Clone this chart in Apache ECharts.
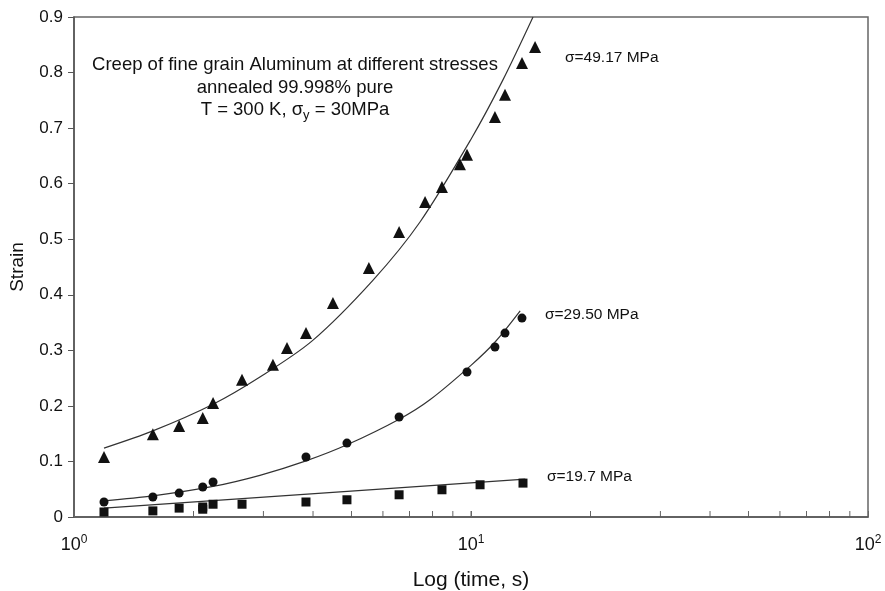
<!DOCTYPE html>
<html>
<head>
<meta charset="utf-8">
<script src="https://cdn.jsdelivr.net/npm/echarts@6/dist/echarts.min.js"></script>
<style>
  html, body { margin: 0; padding: 0; background: #fff; }
  #chart { width: 885px; height: 591px; }
</style>
</head>
<body>
<div id="chart"></div>
<script>
// measured points, [time (s), strain]
const high = [
  [1.19, 0.108], [1.58, 0.149], [1.84, 0.164], [2.11, 0.178], [2.24, 0.205],
  [2.65, 0.247], [3.17, 0.274], [3.44, 0.304], [3.84, 0.331], [4.49, 0.385],
  [5.53, 0.448], [6.59, 0.513], [7.66, 0.567], [8.45, 0.594], [9.38, 0.635],
  [9.77, 0.652], [11.49, 0.720], [12.18, 0.760], [13.44, 0.817], [14.50, 0.846]
];
const mid = [
  [1.19, 0.027], [1.58, 0.036], [1.84, 0.043], [2.11, 0.054], [2.24, 0.063],
  [3.84, 0.108], [4.87, 0.133], [6.59, 0.180], [9.77, 0.261], [11.49, 0.306],
  [12.18, 0.331], [13.44, 0.358]
];
const low = [
  [1.19, 0.009], [1.58, 0.011], [1.84, 0.016], [2.11, 0.018], [2.11, 0.014],
  [2.24, 0.023], [2.65, 0.023], [3.84, 0.027], [4.87, 0.031], [6.59, 0.040],
  [8.45, 0.049], [10.54, 0.058], [13.52, 0.061]
];

// fitted curves
const highFit = [
  [1.19, 0.124], [1.58, 0.155], [2.24, 0.203], [2.94, 0.252], [3.98, 0.317],
  [5.66, 0.426], [7.44, 0.531], [10, 0.68], [12.0, 0.785], [14.33, 0.9]
];
const midFit = [
  [1.19, 0.029], [1.58, 0.038], [2.24, 0.055], [2.94, 0.075], [3.84, 0.101],
  [4.87, 0.130], [6.63, 0.177], [7.88, 0.211], [10, 0.273], [11.5, 0.315], [13.3, 0.371]
];
const lowFit = [[1.19, 0.016], [13.7, 0.068]];

const minorTicks = [2, 3, 4, 5, 6, 7, 8, 9, 10, 20, 30, 40, 50, 60, 70, 80, 90];
const yTicks = [0, 0.1, 0.2, 0.3, 0.4, 0.5, 0.6, 0.7, 0.8, 0.9];
const stressLabels = ['σ=49.17 MPa', 'σ=29.50 MPa', 'σ=19.7 MPa'];

const chart = echarts.init(document.getElementById('chart'));
const ink = '#111';
const font = 'Liberation Sans, Arial, sans-serif';

const fitLine = (data) => ({
  type: 'line',
  data: data,
  smooth: 0.3,
  showSymbol: false,
  lineStyle: { color: '#333', width: 1.2 },
  silent: true,
  z: 1
});

const points = (data, symbol, size) => ({
  type: 'scatter',
  data: data,
  symbol: symbol,
  symbolSize: size,
  itemStyle: { color: ink, opacity: 1 },
  z: 3
});

chart.setOption({
  animation: false,
  grid: {
    left: 74, right: 17, top: 17, bottom: 74,
    outerBoundsMode: 'none',
    show: true, borderColor: '#666', borderWidth: 1.5, backgroundColor: 'transparent'
  },
  title: {
    text: 'Creep of fine grain Aluminum at different stresses\nannealed 99.998% pure\nT = 300 K, σ{sub|y} = 30MPa',
    left: 290,
    top: 49,
    textAlign: 'center',
    textStyle: {
      fontFamily: font, fontSize: 18.5, fontWeight: 'normal', color: ink, lineHeight: 22.5, align: 'center',
      rich: {
        sub: { fontFamily: font, fontSize: 13, color: ink, verticalAlign: 'bottom', lineHeight: 10, padding: [9, 0, 0, 0] }
      }
    }
  },
  xAxis: {
    type: 'log',
    logBase: 10,
    min: 1,
    max: 100,
    name: 'Log (time, s)',
    nameLocation: 'middle',
    nameGap: 53,
    nameTextStyle: { fontFamily: font, fontSize: 21, color: ink },
    axisLine: { lineStyle: { color: '#555', width: 1.5 } },
    axisTick: { inside: true, length: 6, lineStyle: { color: '#666' } },
    splitLine: { show: false },
    axisLabel: {
      margin: 17,
      color: ink,
      formatter: (v) => '{b|10}{sup|' + Math.round(Math.log10(v)) + '}',
      rich: {
        b: { fontFamily: font, fontSize: 18, color: ink, verticalAlign: 'bottom', lineHeight: 20 },
        sup: { fontFamily: font, fontSize: 12, color: ink, verticalAlign: 'top', lineHeight: 12 }
      }
    }
  },
  yAxis: {
    type: 'value',
    min: 0,
    max: 0.9,
    interval: 0.1,
    name: 'Strain',
    nameLocation: 'middle',
    nameGap: 47,
    nameTextStyle: { fontFamily: font, fontSize: 19, color: ink },
    axisLine: { show: true, lineStyle: { color: '#555', width: 1.5 } },
    axisTick: { show: true, length: 6, lineStyle: { color: '#555' } },
    splitLine: { show: false },
    axisLabel: {
      margin: 11,
      fontFamily: font,
      fontSize: 17,
      color: ink,
      padding: [6, 0, 0, 0],
      formatter: (v) => {
        const i = yTicks.findIndex(t => Math.abs(t - v) < 1e-6);
        return i < 0 ? '' : String(yTicks[i]);
      }
    }
  },
  graphic: [
    { type: 'text', left: 565, top: 50, style: { text: stressLabels[0], font: '15.5px ' + font, fill: ink } },
    { type: 'text', left: 545, top: 307, style: { text: stressLabels[1], font: '15.5px ' + font, fill: ink } },
    { type: 'text', left: 547, top: 469, style: { text: stressLabels[2], font: '15.5px ' + font, fill: ink } }
  ],
  series: [
    {
      type: 'custom',
      silent: true,
      data: minorTicks.map(t => [t, 0]),
      renderItem: (params, api) => {
        const p = api.coord([api.value(0), 0]);
        return {
          type: 'line',
          shape: { x1: p[0], y1: p[1], x2: p[0], y2: p[1] - 6 },
          style: { stroke: '#666', lineWidth: 1 }
        };
      },
      z: 0
    },
    fitLine(highFit),
    fitLine(midFit),
    fitLine(lowFit),
    points(high, 'triangle', 12),
    points(mid, 'circle', 9),
    points(low, 'rect', 9)
  ]
});
</script>
</body>
</html>
